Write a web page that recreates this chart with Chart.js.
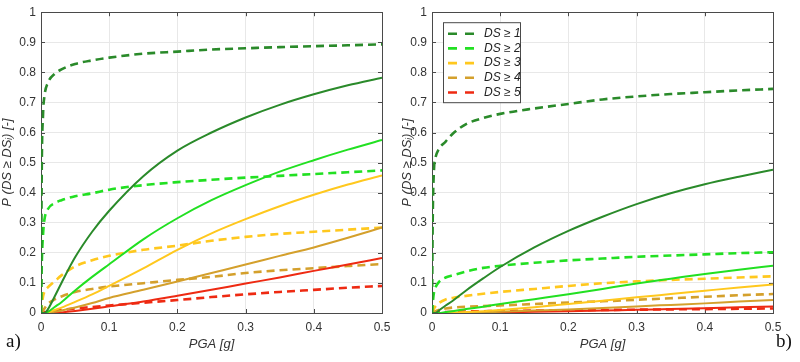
<!DOCTYPE html>
<html>
<head>
<meta charset="utf-8">
<script src="https://cdn.jsdelivr.net/npm/chart.js@4.4.0/dist/chart.umd.min.js"></script>
<style>
  body { margin: 0; background: #fff; }
  #wrap { position: relative; width: 800px; height: 362px; }
  .panel { position: absolute; top: 0; width: 400px; height: 362px; }
  .tag { position: absolute; top: 330px; font: 19px "Liberation Serif", "Times New Roman", serif; color: #111; }
</style>
</head>
<body>
<div id="wrap">
  <div class="panel" style="left:0"><canvas id="chartA"></canvas></div>
  <div class="panel" style="left:400px"><canvas id="chartB"></canvas></div>
  <div class="tag" style="left:6px">a)</div>
  <div class="tag" style="left:776px">b)</div>
</div>
<script>
// PGA [g] values where the curves were read
var pga = [0, 0.001, 0.003, 0.005, 0.01, 0.02, 0.03, 0.05, 0.075, 0.1, 0.15, 0.2, 0.25, 0.3, 0.35, 0.4, 0.45, 0.5];

var labels = ['DS \u2265 1', 'DS \u2265 2', 'DS \u2265 3', 'DS \u2265 4', 'DS \u2265 5'];
var colors = ['#2a8a2a', '#22e022', '#ffc81e', '#d4a02c', '#ee2a12'];

// panel a) dashed curves
var aDash1 = [0, 0.45, 0.66, 0.72, 0.765, 0.795, 0.81, 0.828, 0.84, 0.849, 0.862, 0.869, 0.876, 0.88, 0.884, 0.887, 0.89, 0.893];
var aDash2 = [0, 0.15, 0.26, 0.31, 0.345, 0.365, 0.375, 0.388, 0.398, 0.41, 0.425, 0.435, 0.443, 0.45, 0.456, 0.462, 0.468, 0.474];
var aDash3 = [0, 0.02, 0.055, 0.07, 0.085, 0.105, 0.125, 0.155, 0.175, 0.19, 0.21, 0.224, 0.24, 0.253, 0.263, 0.27, 0.277, 0.284];
var aDash4 = [0, 0.002, 0.008, 0.015, 0.03, 0.045, 0.055, 0.07, 0.08, 0.088, 0.099, 0.11, 0.12, 0.133, 0.142, 0.149, 0.156, 0.163];
var aDash5 = [0, 0, 0.001, 0.002, 0.004, 0.007, 0.01, 0.015, 0.02, 0.025, 0.034, 0.043, 0.053, 0.062, 0.07, 0.077, 0.084, 0.09];
// panel a) solid curves
var aSolid1 = [0, 0, 0, 0, 0.012, 0.055, 0.1, 0.185, 0.27, 0.34, 0.455, 0.54, 0.6, 0.65, 0.692, 0.727, 0.757, 0.782];
var aSolid2 = [0, 0, 0, 0, 0.004, 0.02, 0.036, 0.075, 0.12, 0.162, 0.245, 0.315, 0.375, 0.425, 0.47, 0.508, 0.543, 0.575];
var aSolid3 = [0, 0, 0, 0, 0.002, 0.01, 0.018, 0.037, 0.062, 0.09, 0.148, 0.21, 0.265, 0.312, 0.355, 0.393, 0.427, 0.457];
var aSolid4 = [0, 0, 0, 0, 0.001, 0.004, 0.008, 0.018, 0.033, 0.05, 0.077, 0.105, 0.133, 0.161, 0.19, 0.218, 0.25, 0.284];
var aSolid5 = [0, 0, 0, 0, 0, 0, 0.002, 0.007, 0.014, 0.022, 0.038, 0.057, 0.077, 0.098, 0.118, 0.14, 0.161, 0.183];

// panel b) dashed curves
var bDash1 = [0, 0.3, 0.48, 0.515, 0.545, 0.57, 0.595, 0.628, 0.648, 0.662, 0.68, 0.695, 0.71, 0.72, 0.728, 0.734, 0.74, 0.745];
var bDash2 = [0, 0.03, 0.07, 0.085, 0.103, 0.118, 0.125, 0.138, 0.15, 0.157, 0.167, 0.175, 0.181, 0.187, 0.191, 0.195, 0.199, 0.202];
var bDash3 = [0, 0.005, 0.015, 0.022, 0.033, 0.045, 0.05, 0.057, 0.064, 0.07, 0.08, 0.09, 0.099, 0.105, 0.11, 0.114, 0.118, 0.122];
var bDash4 = [0, 0.001, 0.004, 0.006, 0.01, 0.015, 0.018, 0.021, 0.023, 0.025, 0.03, 0.035, 0.039, 0.044, 0.049, 0.054, 0.059, 0.063];
var bDash5 = [0, 0, 0, 0.001, 0.002, 0.003, 0.004, 0.005, 0.006, 0.007, 0.008, 0.009, 0.01, 0.011, 0.012, 0.013, 0.014, 0.015];
// panel b) solid curves
var bSolid1 = [0, 0, 0, 0, 0.008, 0.025, 0.04, 0.075, 0.115, 0.153, 0.218, 0.273, 0.32, 0.362, 0.398, 0.428, 0.453, 0.476];
var bSolid2 = [0, 0, 0, 0, 0, 0.003, 0.006, 0.013, 0.021, 0.03, 0.046, 0.062, 0.08, 0.098, 0.114, 0.13, 0.144, 0.157];
var bSolid3 = [0, 0, 0, 0, 0, 0, 0.001, 0.003, 0.006, 0.01, 0.019, 0.03, 0.041, 0.052, 0.063, 0.074, 0.085, 0.095];
var bSolid4 = [0, 0, 0, 0, 0, 0, 0, 0.001, 0.002, 0.004, 0.008, 0.012, 0.017, 0.022, 0.027, 0.032, 0.038, 0.043];
var bSolid5 = [0, 0, 0, 0, 0, 0, 0, 0, 0.001, 0.002, 0.004, 0.006, 0.008, 0.011, 0.013, 0.016, 0.019, 0.022];

function points(vals) {
    return vals.map(function (v, i) { return { x: pga[i], y: v }; });
}

function makeSets(dash, solid) {
    var sets = [];
    for (var i = 0; i < 5; i++) {
        sets.push({
            label: labels[i], data: points(solid[i]), borderColor: colors[i],
            borderWidth: 2, pointRadius: 0, cubicInterpolationMode: 'monotone', solid: true
        });
    }
    for (var j = 0; j < 5; j++) {
        sets.push({
            label: labels[j], data: points(dash[j]), borderColor: colors[j],
            borderWidth: 2.6, borderDash: [8, 5], pointRadius: 0, cubicInterpolationMode: 'monotone'
        });
    }
    return sets;
}

// box round the plot area with inward ticks, like the original
var framePlugin = {
    id: 'frame',
    beforeDatasetsDraw: function (chart) {
        var ctx = chart.ctx, a = chart.chartArea, x = chart.scales.x, y = chart.scales.y;
        ctx.save();
        ctx.strokeStyle = '#4a4a4a';
        ctx.lineWidth = 1;
        ctx.beginPath();
        x.ticks.forEach(function (t) {
            var px = Math.round(x.getPixelForValue(t.value)) + 0.5;
            ctx.moveTo(px, a.bottom); ctx.lineTo(px, a.bottom - 4);
            ctx.moveTo(px, a.top); ctx.lineTo(px, a.top + 4);
        });
        y.ticks.forEach(function (t) {
            var py = Math.round(y.getPixelForValue(t.value)) + 0.5;
            ctx.moveTo(a.left, py); ctx.lineTo(a.left + 4, py);
            ctx.moveTo(a.right, py); ctx.lineTo(a.right - 4, py);
        });
        ctx.stroke();
        ctx.strokeRect(Math.round(a.left) + 0.5, Math.round(a.top) + 0.5, Math.round(a.width), Math.round(a.height));
        ctx.restore();
    },
    afterDraw: function (chart) {
        if (!chart.options.plugins.boxLegend) return;
        var ctx = chart.ctx, a = chart.chartArea;
        var bx = a.left + 11, by = a.top + 10, bw = 77, bh = 80;
        ctx.save();
        ctx.fillStyle = '#fff';
        ctx.fillRect(bx, by, bw, bh);
        ctx.strokeStyle = '#4a4a4a';
        ctx.lineWidth = 1;
        ctx.strokeRect(bx + 0.5, by + 0.5, bw, bh);
        ctx.font = 'italic 12px "Liberation Sans", Arial, sans-serif';
        ctx.textBaseline = 'middle';
        chart.data.datasets.forEach(function (ds) {
            if (ds.solid) return;
            var k = labels.indexOf(ds.label);
            var ry = by + 11.5 + k * 14.7;
            ctx.strokeStyle = ds.borderColor;
            ctx.lineWidth = 2.6;
            ctx.setLineDash([9, 8]);
            ctx.beginPath();
            ctx.moveTo(bx + 5, ry); ctx.lineTo(bx + 31, ry);
            ctx.stroke();
            ctx.setLineDash([]);
            ctx.fillStyle = '#222';
            ctx.fillText(ds.label, bx + 41, ry);
        });
        ctx.restore();
    }
};

function tickText(v) {
    return String(Math.round(v * 10) / 10);
}

function makeChart(id, dash, solid, leftW, rightPad, legend) {
    var ctx = document.getElementById(id).getContext('2d');
    return new Chart(ctx, {
        type: 'line',
        data: { datasets: makeSets(dash, solid) },
        options: {
            responsive: false,
            animation: false,
            layout: { padding: { left: 0, right: rightPad, top: 9, bottom: 10 } },
            plugins: { legend: { display: false }, tooltip: { enabled: false }, boxLegend: legend },
            scales: {
                x: {
                    type: 'linear', min: 0, max: 0.5,
                    ticks: { stepSize: 0.1, color: '#333', padding: 7, callback: tickText,
                             font: { size: 12, family: '"Liberation Sans", Arial' } },
                    grid: { color: '#e8e8e8', drawTicks: false },
                    border: { display: false },
                    title: { display: true, text: 'PGA [g]', color: '#333', padding: { top: 2, bottom: 0 },
                             font: { size: 13, style: 'italic', family: '"Liberation Sans", Arial' } },
                    afterFit: function (s) { s.height = 39; }
                },
                y: {
                    min: 0, max: 1,
                    ticks: { stepSize: 0.1, color: '#333', padding: 5, callback: tickText,
                             font: { size: 12, family: '"Liberation Sans", Arial' } },
                    grid: { color: '#e8e8e8', drawTicks: false },
                    border: { display: false },
                    title: { display: true, text: 'P (DS \u2265 DS\u1D62) [-]', color: '#333', padding: { top: 0, bottom: 0 },
                             font: { size: 13, style: 'italic', family: '"Liberation Sans", Arial' } },
                    afterFit: function (s) { s.width = leftW; }
                }
            }
        },
        plugins: [framePlugin]
    });
}

document.getElementById('chartA').width = 400;
document.getElementById('chartA').height = 362;
document.getElementById('chartB').width = 400;
document.getElementById('chartB').height = 362;

var chartA = makeChart('chartA',
    [aDash1, aDash2, aDash3, aDash4, aDash5],
    [aSolid1, aSolid2, aSolid3, aSolid4, aSolid5], 41, 18, false);
var chartB = makeChart('chartB',
    [bDash1, bDash2, bDash3, bDash4, bDash5],
    [bSolid1, bSolid2, bSolid3, bSolid4, bSolid5], 32, 27, true);
</script>
</body>
</html>
